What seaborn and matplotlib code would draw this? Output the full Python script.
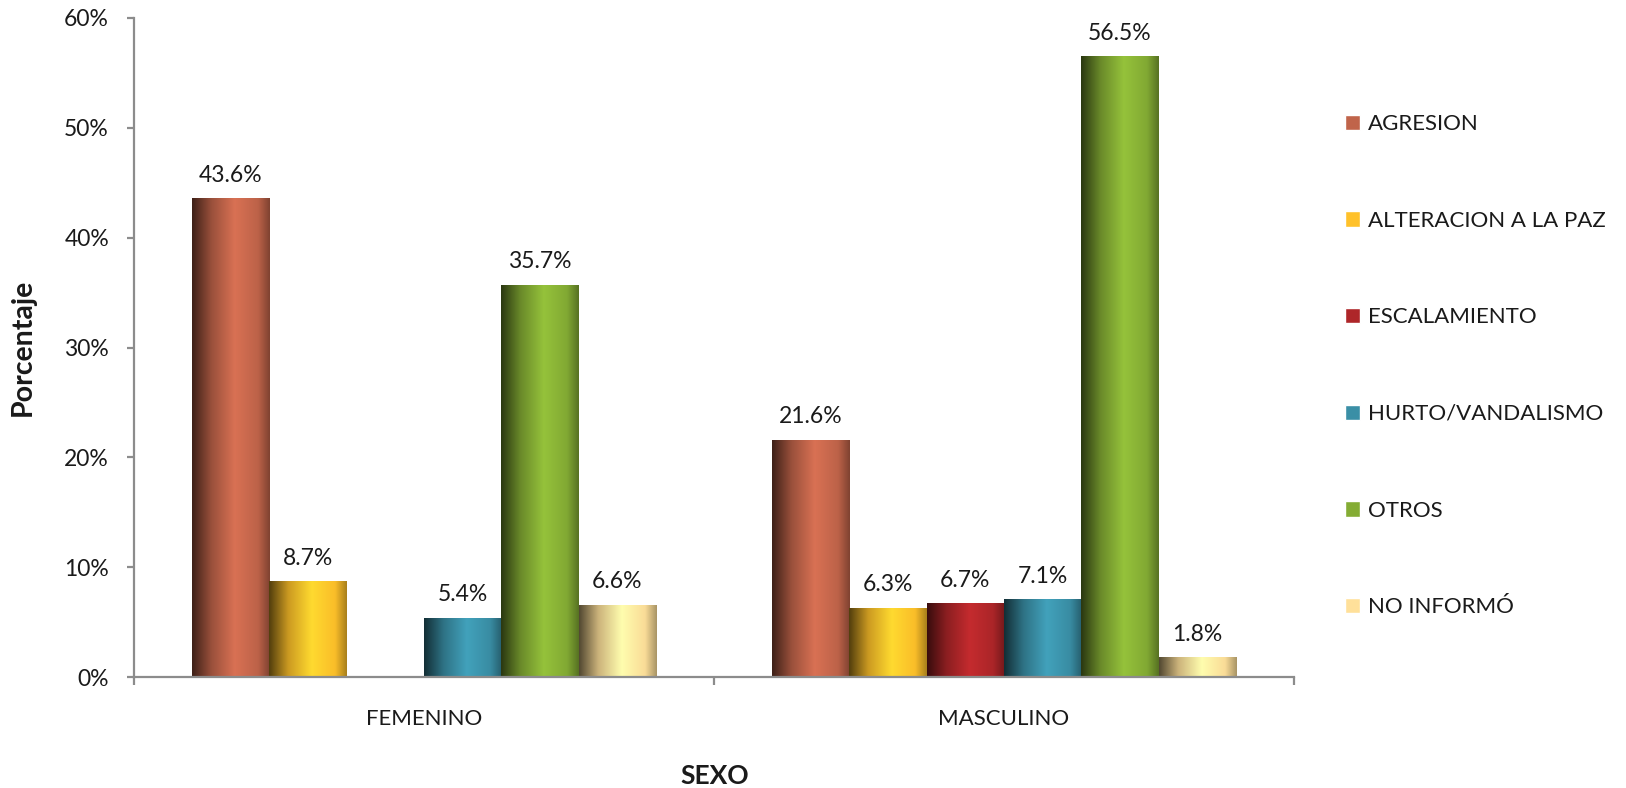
import numpy as np
import pandas as pd
import matplotlib
matplotlib.use("Agg")
import matplotlib.pyplot as plt
from matplotlib.colors import LinearSegmentedColormap, to_rgb
from matplotlib.ticker import FixedLocator
import seaborn as sns

# ---------------- data ----------------
sexo = ["FEMENINO", "MASCULINO"]
delitos = ["AGRESION", "ALTERACION A LA PAZ", "ESCALAMIENTO",
           "HURTO/VANDALISMO", "OTROS", "NO INFORMÓ"]
femenino = [43.6, 8.7, 0.0, 5.4, 35.7, 6.6]
masculino = [21.6, 6.3, 6.7, 7.1, 56.5, 1.8]
y_ticks = [0, 10, 20, 30, 40, 50, 60]
colors = ["#C0644A", "#FFC12A", "#AE2629", "#3A8FA6", "#84AC34", "#FFE09A"]

rows = []
for s, vals in zip(sexo, [femenino, masculino]):
    for d, v in zip(delitos, vals):
        rows.append({"SEXO": s, "delito": d, "pct": v})
df = pd.DataFrame(rows)

# ---------------- plot ----------------
sns.set_theme(style="white")
plt.rcParams["font.family"] = ["Lato", "DejaVu Sans"]

fig = plt.figure(figsize=(16.26, 7.88), dpi=100)
ax = fig.add_axes([134 / 1626, 1 - 677 / 788, (1294 - 134) / 1626, (677 - 18) / 788])

sns.barplot(data=df, x="SEXO", y="pct", hue="delito", hue_order=delitos,
            order=sexo, palette=colors, width=0.8, ax=ax, saturation=1,
            legend=True, errorbar=None)

ax.set_ylim(0, 60)
ax.set_xlim(-0.5, 1.5)

# cylindrical gradient on bars
def shade(c, f):
    c = np.array(to_rgb(c))
    if f < 1:
        return tuple(c * f)
    return tuple(np.clip(c * f, 0, 1))

for cont, col in zip(ax.containers, colors):
    cmap = LinearSegmentedColormap.from_list(
        "g", [(0.0, shade(col, 0.32)), (0.25, shade(col, 0.8)),
              (0.55, shade(col, 1.13)), (0.85, shade(col, 0.98)),
              (1.0, shade(col, 0.66))])
    grad = np.linspace(0, 1, 256).reshape(1, -1)
    for p in cont.patches:
        h = p.get_height()
        if h <= 0:
            continue
        x0, w = p.get_x(), p.get_width()
        p.set_facecolor("none")
        p.set_edgecolor("none")
        im = ax.imshow(grad, cmap=cmap, aspect="auto",
                       extent=(x0, x0 + w, 0, h), zorder=2,
                       interpolation="bicubic")
        im.set_clip_path(p)
    labels = [f"{v:.1f}%" if v > 0 else "" for v in cont.datavalues]
    ax.bar_label(cont, labels=labels, padding=9, fontsize=16.5, color="#1a1a1a")

ax.set_xlim(-0.5, 1.5)
ax.set_ylim(0, 60)

# axes styling
axis_gray = "#8c8c8c"
for side in ["top", "right"]:
    ax.spines[side].set_visible(False)
for side in ["left", "bottom"]:
    ax.spines[side].set_color(axis_gray)
    ax.spines[side].set_linewidth(1.6)

ax.set_yticks(y_ticks)
ax.set_yticklabels([f"{t}%" for t in y_ticks], fontsize=16.5, color="#1a1a1a")
ax.tick_params(axis="y", which="major", length=5, width=1.6, color=axis_gray,
               pad=13, left=True, direction="out")

ax.set_xticks([0, 1])
ax.set_xticklabels(sexo, fontsize=16, color="#1a1a1a")
ax.tick_params(axis="x", which="major", length=0, pad=23)
ax.xaxis.set_minor_locator(FixedLocator([-0.5, 0.5, 1.5]))
ax.tick_params(axis="x", which="minor", length=6, width=1.6, color=axis_gray,
               bottom=True, direction="out")

ax.set_xlabel("")
ax.set_ylabel("")
fig.text(23 / 1626, 1 - 347 / 788, "Porcentaje", rotation=90, fontsize=20.5,
         fontweight="bold", ha="center", va="center", color="#1a1a1a")
fig.text(715 / 1626, 1 - 776 / 788, "SEXO", fontsize=19, fontweight="bold",
         ha="center", va="center", color="#1a1a1a")

# legend
handles, labs = ax.get_legend_handles_labels()
leg = ax.legend(handles, labs, loc="upper left",
                bbox_to_anchor=(1345 / 1626, 1 - 114 / 788),
                bbox_transform=fig.transFigure, frameon=False,
                fontsize=16, handlelength=0.68, handleheight=0.68,
                handletextpad=0.35, labelspacing=3.45, borderaxespad=0,
                borderpad=0)
for t in leg.get_texts():
    t.set_color("#1a1a1a")

fig.savefig("out.png", dpi=100, facecolor="white")
